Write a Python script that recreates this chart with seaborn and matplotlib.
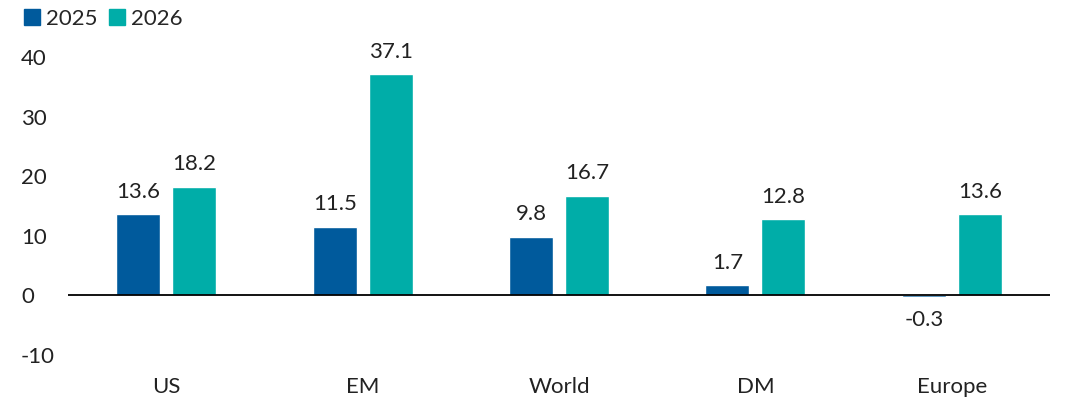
import matplotlib
matplotlib.use("Agg")
import matplotlib.pyplot as plt
import seaborn as sns
import pandas as pd
from matplotlib.patches import Patch

categories = ["US", "EM", "World", "DM", "Europe"]
series_names = ["2025", "2026"]
values_2025 = [13.6, 11.5, 9.8, 1.7, -0.3]
values_2026 = [18.2, 37.1, 16.7, 12.8, 13.6]
colors = ["#005A9C", "#00ADA8"]

df = pd.DataFrame({
    "region": categories * 2,
    "year": [series_names[0]] * 5 + [series_names[1]] * 5,
    "value": values_2025 + values_2026,
})

sns.set_theme(style="white")
plt.rcParams["font.family"] = ["Lato", "DejaVu Sans"]

FS = 16
fig = plt.figure(figsize=(10.67, 3.98), dpi=100)
ax = fig.add_axes([0.064, 0.108, 0.92, 0.749])

sns.barplot(data=df, x="region", y="value", hue="year", order=categories,
            hue_order=series_names, palette=colors, width=0.57, gap=0.214,
            saturation=1, ax=ax, legend=False, errorbar=None)

for cont in ax.containers:
    ax.bar_label(cont, fmt="%.1f", padding=9, fontsize=FS, color="#222222")

ax.axhline(0, color="black", lw=1.3)
ax.set_ylim(-10, 40)
ax.set_xlim(-0.5, 4.5)
ax.set_yticks([-10, 0, 10, 20, 30, 40])
ax.set_yticklabels(["-10", "0", "10", "20", "30", "40"])
ax.set_xlabel("")
ax.set_ylabel("")
for s in ax.spines.values():
    s.set_visible(False)
ax.tick_params(axis="both", length=0, labelsize=FS, colors="#222222")
ax.tick_params(axis="x", pad=16)
for t in ax.get_yticklabels():
    t.set_horizontalalignment("left")
ax.tick_params(axis="y", pad=34)

handles = [Patch(color=c, label=n) for c, n in zip(colors, series_names)]
fig.legend(handles=handles, loc="upper left", bbox_to_anchor=(0.014, 1.0),
           ncol=2, frameon=False, fontsize=FS, handlelength=0.75, handleheight=0.75,
           handletextpad=0.25, columnspacing=0.5, borderaxespad=0)

fig.savefig("out.png", dpi=100)
